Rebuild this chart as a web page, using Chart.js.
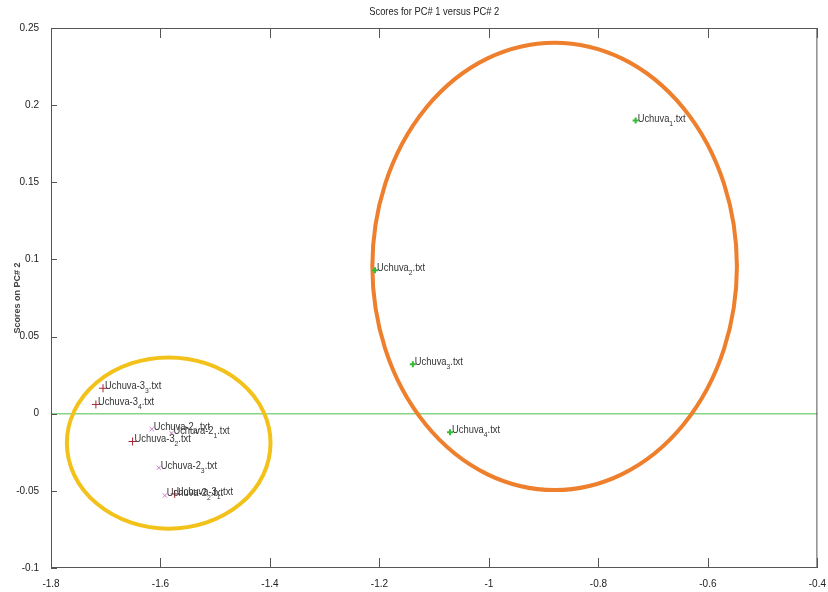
<!DOCTYPE html>
<html>
<head>
<meta charset="utf-8">
<script src="https://cdn.jsdelivr.net/npm/chart.js@4.4.1/dist/chart.umd.min.js"></script>
<style>
  html, body { margin: 0; padding: 0; background: #fff; }
  #wrap { width: 828px; height: 592px; }
</style>
</head>
<body>
<div id="wrap"><canvas id="pcaChart" width="828" height="592"></canvas></div>
<script>
// tick labels
const xTicks = [-1.8, -1.6, -1.4, -1.2, -1, -0.8, -0.6, -0.4];
const yTicks = [-0.1, -0.05, 0, 0.05, 0.1, 0.15, 0.2, 0.25];

// group 1 (green +)
const g1X = [-0.732, -1.208, -1.139, -1.071];
const g1Y = [0.190, 0.093, 0.032, -0.012];
const g1Base = ['Uchuva', 'Uchuva', 'Uchuva', 'Uchuva'];
const g1Sub = ['1', '2', '3', '4'];

// group 2 (magenta x)
const g2X = [-1.580, -1.592, -1.603, -1.616];
const g2Y = [-0.0126, -0.053, -0.035, -0.010];
const g2Base = ['Uchuva-2', 'Uchuva-2', 'Uchuva-2', 'Uchuva-2'];
const g2Sub = ['1', '2', '3', '4'];

// group 3 (red +)
const g3X = [-1.574, -1.651, -1.705, -1.718];
const g3Y = [-0.052, -0.018, 0.0165, 0.006];
const g3Base = ['Uchuva-3', 'Uchuva-3', 'Uchuva-3', 'Uchuva-3'];
const g3Sub = ['1', '2', '3', '4'];

// highlight ellipses: centre x, centre y, radius x, radius y (data units)
const ellipseCx = [-1.585, -0.880];
const ellipseCy = [-0.019, 0.0955];
const ellipseRx = [0.186, 0.333];
const ellipseRy = [0.0555, 0.145];
const ellipseColors = ['#f2c21b', '#ee7f2d'];

const zeroLine = 0;

const sans = "'Liberation Sans', Arial, sans-serif";

function toPoints(xs, ys, base, sub) {
  return xs.map((x, i) => ({ x: x, y: ys[i], base: base[i], sub: sub[i] }));
}

// draws text squeezed horizontally, returns the width used
function narrowText(ctx, text, x, y, size, squeeze) {
  ctx.font = size + 'px ' + sans;
  ctx.save();
  ctx.translate(x, y);
  ctx.scale(squeeze, 1);
  ctx.fillText(text, 0, 0);
  ctx.restore();
  return ctx.measureText(text).width * squeeze;
}

const overlayPlugin = {
  id: 'overlay',
  beforeDatasetsDraw(chart) {
    const { ctx, chartArea: a, scales: { x, y } } = chart;
    ctx.save();
    // zero line
    const zy = y.getPixelForValue(zeroLine);
    ctx.strokeStyle = '#86d486';
    ctx.lineWidth = 1.5;
    ctx.beginPath();
    ctx.moveTo(a.left, zy);
    ctx.lineTo(a.right, zy);
    ctx.stroke();
    // ellipses
    ellipseCx.forEach((cx, i) => {
      const px = x.getPixelForValue(cx);
      const py = y.getPixelForValue(ellipseCy[i]);
      const rx = Math.abs(x.getPixelForValue(cx + ellipseRx[i]) - px);
      const ry = Math.abs(y.getPixelForValue(ellipseCy[i] + ellipseRy[i]) - py);
      ctx.strokeStyle = ellipseColors[i];
      ctx.lineWidth = 4;
      ctx.beginPath();
      ctx.ellipse(px, py, rx, ry, 0, 0, Math.PI * 2);
      ctx.stroke();
    });
    ctx.restore();
  },
  afterDatasetsDraw(chart) {
    const { ctx, chartArea: a, scales: { x, y } } = chart;
    ctx.save();
    // point labels with subscripts
    ctx.fillStyle = '#333';
    ctx.textBaseline = 'alphabetic';
    chart.data.datasets.forEach((ds, di) => {
      const meta = chart.getDatasetMeta(di);
      meta.data.forEach((el, i) => {
        const p = ds.data[i];
        let tx = el.x + 2;
        const ty = el.y + 1;
        tx += narrowText(ctx, p.base, tx, ty, 11, 0.85);
        tx += narrowText(ctx, p.sub, tx, ty + 4, 8, 0.85);
        narrowText(ctx, '.txt', tx, ty, 11, 0.85);
      });
    });
    // frame
    ctx.strokeStyle = '#555';
    ctx.lineWidth = 1;
    ctx.strokeRect(a.left + 0.5, a.top + 0.5, a.right - a.left - 1, a.bottom - a.top - 1);
    // inward ticks
    ctx.beginPath();
    xTicks.forEach(v => {
      const px = Math.round(x.getPixelForValue(v)) + 0.5;
      ctx.moveTo(px, a.bottom);
      ctx.lineTo(px, a.bottom - 10);
      ctx.moveTo(px, a.top);
      ctx.lineTo(px, a.top + 10);
    });
    yTicks.forEach(v => {
      const py = Math.round(y.getPixelForValue(v)) + 0.5;
      ctx.moveTo(a.left, py);
      ctx.lineTo(a.left + 6, py);
    });
    ctx.stroke();
    // title
    ctx.fillStyle = '#222';
    ctx.font = '11px ' + sans;
    const title = 'Scores for PC# 1 versus PC# 2';
    const tw = ctx.measureText(title).width * 0.85;
    narrowText(ctx, title, (a.left + a.right) / 2 - tw / 2, 15, 11, 0.85);
    ctx.restore();
  }
};

new Chart(document.getElementById('pcaChart').getContext('2d'), {
  type: 'scatter',
  data: {
    datasets: [
      {
        label: 'Uchuva',
        data: toPoints(g1X, g1Y, g1Base, g1Sub),
        pointStyle: 'cross',
        pointRadius: 3,
        borderColor: '#33bb33',
        borderWidth: 2
      },
      {
        label: 'Uchuva-2',
        data: toPoints(g2X, g2Y, g2Base, g2Sub),
        pointStyle: 'crossRot',
        pointRadius: 3,
        borderColor: '#cc77cc',
        borderWidth: 1
      },
      {
        label: 'Uchuva-3',
        data: toPoints(g3X, g3Y, g3Base, g3Sub),
        pointStyle: 'cross',
        pointRadius: 4,
        borderColor: '#aa2233',
        borderWidth: 1
      }
    ]
  },
  options: {
    responsive: false,
    animation: false,
    layout: { padding: { top: 28, right: 0, left: 12, bottom: 0 } },
    plugins: {
      legend: { display: false },
      tooltip: { enabled: false }
    },
    scales: {
      x: {
        type: 'linear',
        min: -1.8,
        max: -0.4,
        afterBuildTicks: s => { s.ticks = xTicks.map(v => ({ value: v })); },
        afterFit: s => { s.height = 24; },
        grid: { display: false },
        border: { display: false },
        ticks: {
          padding: 2,
          color: '#222',
          font: { size: 10, family: sans },
          maxRotation: 0,
          callback: v => String(v)
        }
      },
      y: {
        type: 'linear',
        min: -0.1,
        max: 0.25,
        afterBuildTicks: s => { s.ticks = yTicks.map(v => ({ value: v })); },
        afterFit: s => { s.width = 39; },
        grid: { display: false },
        border: { display: false },
        title: {
          display: true,
          text: 'Scores on PC# 2',
          color: '#444',
          font: { size: 9, weight: 'bold', family: sans },
          padding: { top: 0, bottom: 2 }
        },
        ticks: {
          padding: 4,
          color: '#222',
          font: { size: 10, family: sans },
          callback: v => String(v)
        }
      }
    }
  },
  plugins: [overlayPlugin]
});
</script>
</body>
</html>
